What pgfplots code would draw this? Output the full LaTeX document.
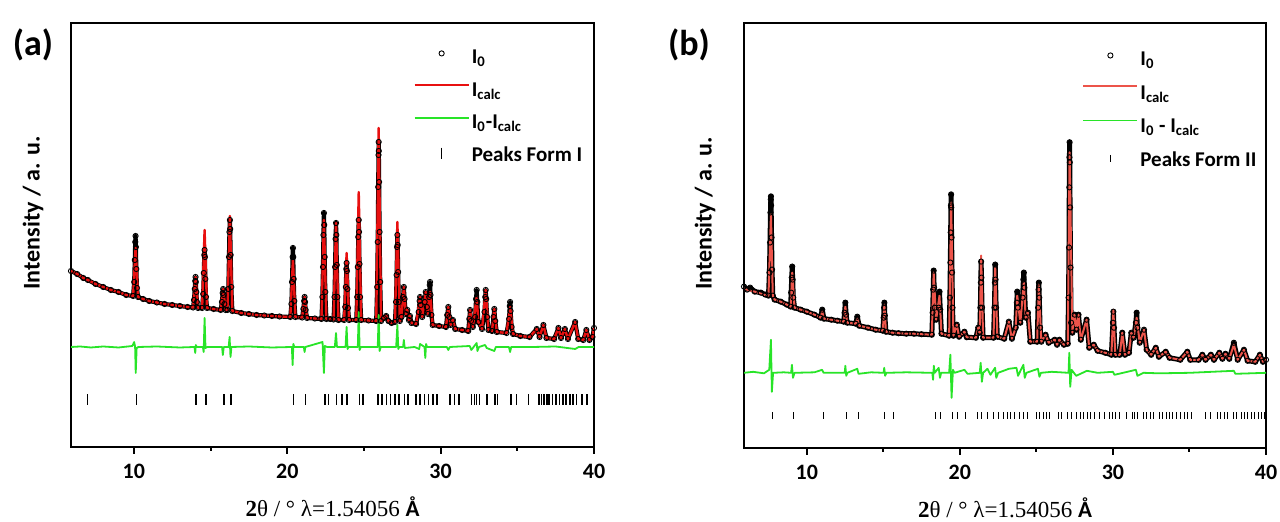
\documentclass[border=0pt]{standalone}
\usepackage{pgfplots}
\usepackage{pgfplotstable}
\pgfplotsset{compat=1.18}
\usepackage{fontspec}
\setmainfont{Carlito}
\newfontfamily\serifx{Liberation Serif}
\definecolor{redA}{RGB}{232,16,16}
\definecolor{redB}{RGB}{236,84,74}
\definecolor{greenc}{RGB}{40,228,40}

\pgfplotstableread{
x obs calc
5.9 176 176
6.3 173 173
6.7 169 169
7.0 167 167
7.5 163 163
8.0 160 160
8.5 157 157
9.0 155 155
9.5 152 152
9.95 151 151
10.02 165 nan
10.06 187 nan
10.09 205 nan
10.11 211 199
10.13 200 nan
10.16 178 nan
10.2 159 nan
10.27 150 150
10.6 148 148
11.0 146 146
11.5 144.5 144.5
12.0 143 143
12.5 142 142
13.0 141 141
13.5 140 140
13.86 139.5 139.5
13.92 147 nan
13.97 158 nan
14.0 166 nan
14.02 170 170
14.04 165 nan
14.07 155 nan
14.11 145 nan
14.18 139 139
14.45 139 139
14.52 153 nan
14.56 174 nan
14.59 192 nan
14.61 197 217
14.63 190 nan
14.66 168 nan
14.7 150 nan
14.77 139 139
15.2 138 138
15.66 137 137
15.74 145 nan
15.79 154 nan
15.82 158 158
15.85 152 nan
15.9 143 nan
15.98 137 137
16.1 137 137
16.16 158 nan
16.2 190 nan
16.23 215 nan
16.26 227 231
16.28 218 nan
16.31 192 nan
16.35 160 nan
16.42 136 136
17.0 134 134
17.5 133 133
18.0 132 132
18.5 131.5 131.5
19.0 131 131
19.5 130.5 130.5
20.2 130 130
20.27 143 nan
20.31 165 nan
20.35 190 nan
20.37 199 187
20.39 190 nan
20.42 168 nan
20.46 146 nan
20.53 130 130
20.97 129.5 129.5
21.05 138 nan
21.1 146 nan
21.13 150 150
21.16 145 nan
21.2 137 nan
21.29 129 129
21.8 128.5 128.5
22.23 128 128
22.29 150 nan
22.33 180 nan
22.36 212 nan
22.39 234 227
22.41 222 nan
22.44 190 nan
22.48 155 nan
22.55 128 128
22.8 128 128
23.02 127.5 127.5
23.08 150 nan
23.12 180 nan
23.15 208 nan
23.18 224 224
23.2 212 nan
23.23 182 nan
23.27 150 nan
23.34 127 127
23.71 127 127
23.78 140 nan
23.82 160 nan
23.85 178 nan
23.87 184 194
23.89 176 nan
23.92 158 nan
23.96 139 nan
24.03 127 127
24.5 127 127
24.56 150 nan
24.6 180 nan
24.63 210 nan
24.66 227 255
24.68 215 nan
24.71 183 nan
24.75 150 nan
24.82 127 127
25.3 126.5 126.5
25.8 126 126
25.86 160 nan
25.9 205 nan
25.93 260 nan
25.95 292 nan
25.96 305 319
25.97 296 nan
25.99 265 nan
26.02 215 nan
26.06 165 nan
26.12 126 126
26.3 129 129
26.45 131 131
26.6 126 126
26.8 124 124
27.02 125 125
27.09 145 nan
27.13 172 nan
27.16 200 nan
27.18 212 225
27.2 202 nan
27.23 175 nan
27.27 145 nan
27.34 126 126
27.45 130 130
27.55 150 nan
27.6 160 160
27.65 148 nan
27.73 133 133
27.83 137 137
27.93 127 127
28.0 131 131
28.1 124 124
28.4 123 123
28.57 135 nan
28.63 146 nan
28.66 150 150
28.7 142 nan
28.8 130 130
28.96 145 nan
29.03 155 155
29.1 140 nan
29.17 133 133
29.25 150 nan
29.29 162 nan
29.31 165 155
29.34 152 nan
29.4 132 nan
29.48 122 122
29.9 121 121
30.35 120 120
30.43 132 nan
30.5 140 140
30.57 130 nan
30.65 122 122
30.8 127 127
30.95 118 118
31.4 117 117
31.8 116 116
31.87 128 nan
31.92 137 137
31.98 126 nan
32.1 120 120
32.25 130 nan
32.31 148 nan
32.35 157 150
32.39 145 nan
32.46 125 125
32.7 118 118
32.86 135 nan
32.91 150 nan
32.94 157 157
32.97 148 nan
33.03 130 nan
33.12 117 117
33.35 116 116
33.45 130 nan
33.5 138 138
33.56 126 nan
33.66 115 115
34.3 114 114
34.46 128 nan
34.51 141 nan
34.53 145 140
34.56 136 nan
34.63 120 nan
34.72 113 113
35.2 111 111
35.8 110 110
36.27 118 118
36.45 110 110
36.7 122 122
36.9 109 109
37.4 108 108
37.68 119 119
37.85 109 109
38.1 118 118
38.3 108 108
38.77 125 125
38.97 108 108
39.3 107 107
39.5 117 117
39.7 107 107
39.9 110 110
40.0 119 119
}\dataA

\pgfplotstableread{
x d
5.9 100
6.5 100.5
7.2 99.5
8 100.5
9 99.5
9.9 101
10.02 105
10.08 100
10.12 74
10.18 99
10.3 100
11.5 100.5
13 99.5
13.95 100
14.0 94
14.04 102
14.1 100
14.5 100
14.55 95
14.61 129
14.67 99
14.8 100
15.75 100
15.8 92
15.86 100
16.18 100
16.24 110
16.3 90
16.36 100
17.5 100.5
19 99.5
20.3 100
20.35 82
20.4 103
20.46 100
21.08 100
21.13 95
21.18 100
22.3 105
22.39 74
22.45 101
22.6 100
23.1 100
23.18 114
23.24 100
23.8 100
23.87 120
23.93 98
24.0 100
24.6 100
24.66 135
24.72 97
24.8 100
25.9 100
25.96 132
26.02 96
26.1 100
27.1 100
27.18 122
27.24 98
27.3 100
27.55 100
27.6 107
27.66 99
28.3 100
28.6 98
28.66 103
28.95 100
29.0 89
29.05 103
29.12 100
30.4 100
30.5 97
30.6 100
31.9 101
32.0 97
32.35 104
32.4 96
32.5 100
32.9 102
33.0 99
33.5 96
33.6 100
34.45 100
34.53 95
34.6 100
36 100
37.5 100.5
38.77 98
39 100
40 100
}\diffA

\pgfplotstableread{
x obs calc
5.9 161 159
6.1 158 158
6.3 160 157
6.6 156 156
7.0 155 154
7.3 153 152.5
7.5 152 152
7.56 175 nan
7.6 205 nan
7.63 235 nan
7.65 248 nan
7.66 251 233
7.67 242 nan
7.7 210 nan
7.73 178 nan
7.78 152 152
7.9 148 148
8.3 146 146
8.7 143 143
8.95 141 141
8.98 155 nan
9.02 170 nan
9.05 181 175
9.08 168 nan
9.12 150 nan
9.2 140 140
9.6 138 138
10.0 136 136
10.5 133 133
10.9 130 130
11.01 138 136
11.12 129 129
11.6 128 128
12.0 127 127
12.42 126 126
12.47 135 nan
12.52 145 141
12.57 133 nan
12.64 125 125
13.2 124 124
13.3 131 129
13.42 122 122
14.0 120 120
14.5 118 118
14.97 117 117
15.02 130 nan
15.05 140 nan
15.07 145 143
15.1 132 nan
15.17 116 116
15.6 115 115
16.0 114.5 114.5
16.5 114 114
17.0 114 114
17.5 113.5 113.5
18.17 113 113
18.22 135 nan
18.26 158 nan
18.29 177 175
18.32 160 nan
18.36 140 nan
18.45 128 128
18.62 140 nan
18.67 156 152
18.72 138 nan
18.8 114 114
19.3 112 112
19.35 150 nan
19.38 185 nan
19.4 215 nan
19.42 242 nan
19.43 253 245
19.44 240 nan
19.46 210 nan
19.49 175 nan
19.52 140 nan
19.58 112 112
19.8 123 123
19.95 111 111
20.3 116 116
20.45 110.5 110.5
21.05 110 110
21.2 120 120
21.3 115 115
21.34 140 nan
21.37 165 nan
21.39 186 192
21.41 170 nan
21.45 140 nan
21.52 110 110
22.2 110 110
22.26 140 nan
22.29 165 nan
22.31 183 180
22.33 168 nan
22.37 140 nan
22.45 111 111
22.9 109 109
23.2 126 126
23.4 109 109
23.65 120 120
23.72 145 nan
23.75 156 152
23.79 140 nan
23.95 125 125
24.1 150 nan
24.15 168 nan
24.18 175 165
24.22 160 nan
24.3 130 130
24.45 135 135
24.6 106 106
25.05 106 106
25.11 140 nan
25.14 158 nan
25.16 165 163
25.19 150 nan
25.24 120 nan
25.32 106 106
25.6 113 113
25.8 105 105
26.2 108 108
26.35 103 103
26.5 108 108
26.8 103 103
27.05 104 104
27.1 150 nan
27.13 200 nan
27.15 260 nan
27.16 290 nan
27.17 305 295
27.18 285 nan
27.2 240 nan
27.23 180 nan
27.27 125 nan
27.35 115 115
27.5 133 133
27.62 118 118
27.75 133 133
27.9 108 108
28.28 128 128
28.45 100 100
28.75 103 103
29.0 97 97
29.5 95 95
29.9 93 93
30.0 125 nan
30.03 136 138
30.07 120 nan
30.15 93 93
30.45 93 93
30.61 115 115
30.78 93 93
31.05 95 95
31.2 115 115
31.35 110 110
31.5 125 nan
31.55 135 130
31.6 120 nan
31.75 105 105
32.03 118 118
32.2 98 98
32.5 93 93
32.8 100 100
33.0 91 91
33.45 96 96
33.7 90 90
34.4 88 88
34.86 96 96
35.05 88 88
35.6 88 88
35.84 93 93
36.05 88 88
36.4 93 93
36.6 88 88
36.95 95 95
37.15 89 89
37.35 94 94
37.6 89 89
37.9 105 103
38.15 88 88
38.56 98 98
38.8 87 87
39.3 86 86
39.6 93 93
39.8 86 86
40.0 88 88
}\dataB

\pgfplotstableread{
x d
5.9 75
6.5 76
7.2 74.5
7.55 78
7.66 108
7.72 56
7.8 75
8.5 75.5
8.98 75
9.03 83
9.1 70
9.2 75
10.5 75.5
11.0 78
11.1 75
12.48 75
12.52 82
12.58 72
12.65 75
13.3 79
13.38 74
14.2 75.5
15.02 75
15.06 80
15.12 72
15.2 75
16.5 75.5
18.2 75
18.25 68
18.3 82
18.36 75
18.62 80
18.7 70
18.78 75
19.3 75
19.38 93
19.46 50
19.55 78
19.65 75
20.3 78
20.5 74
21.3 75
21.36 85
21.44 66
21.52 75
21.8 79
22.0 73
22.3 80
22.38 70
22.5 75
23.2 79
23.7 80
23.8 72
24.15 83
24.24 70
24.35 75
25.1 79
25.2 71
25.3 75
26.0 76
27.1 75
27.15 95
27.21 61
27.3 78
27.6 72
28.3 77
29 75
30 76
30.1 73
31.5 78
31.6 72
32 75
33 74.5
35 75
37.9 77
38 74
40 75
}\diffB

\pgfplotsset{
  xrdaxis/.style={
    scale only axis,
    xmin=5.9, xmax=40, ymin=0, ymax=424,
    axis line style={line width=1.2pt},
    xtick={10,20,30,40}, minor xtick={15,25,35},
    xtick pos=bottom, ytick=\empty,
    tick align=outside,
    major tick length=3.5pt, minor tick length=2pt,
    every tick/.style={line width=1pt, black},
    /pgf/number format/assume math mode=true,
    xticklabel style={font=\fontsize{11}{13}\selectfont\bfseries, yshift=-1.5pt},
    xlabel={\serifx{\bfseries 2}θ / ° λ=1.54056 {\normalfont\bfseries Å}},
    xlabel style={font=\fontsize{11.5}{13}\selectfont, at={(axis description cs:0.5,-0.141)}, anchor=center},
    ylabel={Intensity / a. u.},
    ylabel style={font=\fontsize{12}{14}\selectfont\bfseries, anchor=center},
    legend cell align=left,
    legend image code/.code={\draw[mark repeat=2,mark phase=2,#1] plot coordinates {(0pt,0pt) (13.5pt,0pt) (27pt,0pt)};},
  }
}

\begin{document}
\begin{tikzpicture}
\useasboundingbox (0,0) rectangle (640pt,261pt);
% ---------------- panel (a)
\begin{axis}[xrdaxis, at={(35.5pt,37.5pt)}, anchor=south west,
  width=261.5pt, height=212pt,
  ylabel style={at={(axis description cs:-0.0727,0.552)}},
  legend style={draw=none, fill=none, inner sep=0pt,
    font=\fontsize{10.5}{12}\selectfont\bfseries,
    row sep=4.3pt,
    nodes={inner sep=1pt, text height=7.5pt, text depth=2.5pt},
    at={(axis description cs:0.654,0.9457)}, anchor=north west}]
\addplot[black, line width=2.1pt, line join=round, forget plot] table[x=x,y=obs]{\dataA};
\addplot[only marks, mark=o, mark size=1.3pt, mark options={line width=0.45pt, black},
  legend image post style={yshift=2.5pt}] table[x=x,y=obs]{\dataA};
\addplot[redA, line width=1.2pt, line join=round, legend image post style={yshift=3pt}] table[x=x,y=calc]{\dataA};
\addplot[greenc, line width=0.9pt, line join=round, legend image post style={yshift=2.8pt}] table[x=x,y=d]{\diffA};
\addplot[only marks, mark=|, mark size=2.75pt, mark options={line width=0.8pt, black},
  legend image post style={yshift=1.5pt}] coordinates {
(6.97,47.4) (10.16,47.4) (14.04,47.4) (14.72,47.4) (15.89,47.4) (16.33,47.4)
(20.40,47.4) (21.19,47.4) (22.47,47.4) (22.69,47.4) (23.21,47.4) (23.55,47.4)
(23.88,47.4) (24.72,47.4) (24.94,47.4) (25.90,47.4) (26.18,47.4) (26.46,47.4)
(26.74,47.4) (27.03,47.4) (27.30,47.4) (27.64,47.4) (27.86,47.4) (28.38,47.4)
(28.65,47.4) (28.94,47.4) (29.21,47.4) (29.50,47.4) (29.77,47.4) (30.63,47.4)
(30.90,47.4) (31.19,47.4) (32.02,47.4) (32.20,47.4) (32.35,47.4) (32.53,47.4)
(33.03,47.4) (33.54,47.4) (33.70,47.4) (34.60,47.4) (34.94,47.4) (35.72,47.4)
(36.40,47.4) (36.58,47.4) (36.73,47.4) (36.92,47.4) (37.07,47.4) (37.29,47.4)
(37.52,47.4) (37.74,47.4) (37.97,47.4) (38.19,47.4) (38.42,47.4) (38.64,47.4)
(38.87,47.4) (39.20,47.4) (39.54,47.4)};
\addlegendentry{I\textsubscript{0}}
\addlegendentry{I\textsubscript{calc}}
\addlegendentry{I\textsubscript{0}-I\textsubscript{calc}}
\addlegendentry{Peaks Form I}
\end{axis}
% ---------------- panel (b)
\begin{axis}[xrdaxis, at={(372pt,37pt)}, anchor=south west,
  width=261pt, height=212.5pt,
  ylabel style={at={(axis description cs:-0.0747,0.552)}},
  legend style={draw=none, fill=none, inner sep=0pt,
    font=\fontsize{10.5}{12}\selectfont\bfseries,
    row sep=4.8pt,
    nodes={inner sep=1pt, text height=7.5pt, text depth=2.5pt},
    at={(axis description cs:0.6475,0.941)}, anchor=north west}]
\addplot[black, line width=2.5pt, line join=round, forget plot] table[x=x,y=obs]{\dataB};
\addplot[only marks, mark=o, mark size=1.3pt, mark options={line width=0.45pt, black},
  legend image post style={yshift=2.5pt}] table[x=x,y=obs]{\dataB};
\addplot[redB, line width=1pt, line join=round, legend image post style={yshift=4pt}] table[x=x,y=calc]{\dataB};
\addplot[greenc, line width=0.9pt, line join=round, legend image post style={yshift=3.6pt}] table[x=x,y=d]{\diffB};
\addplot[only marks, mark=|, mark size=1.75pt, mark options={line width=0.5pt, black},
  legend image post style={yshift=1.5pt}] coordinates {
(7.75,32) (9.12,32) (11.11,32) (12.57,32) (13.39,32) (15.11,32) (15.64,32)
(18.41,32) (18.74,32) (19.52,32) (19.84,32) (20.40,32) (21.13,32) (21.39,32)
(21.79,32) (22.17,32) (22.50,32) (22.83,32) (23.12,32) (23.34,32) (23.60,32)
(23.89,32) (24.18,32) (24.40,32) (25.00,32) (25.22,32) (25.44,32) (25.66,32)
(25.84,32) (26.44,32) (26.66,32) (27.05,32) (27.32,32) (27.65,32) (27.87,32)
(28.09,32) (28.31,32) (28.53,32) (28.82,32) (29.09,32) (29.48,32) (29.75,32)
(29.97,32) (30.20,32) (30.41,32) (30.86,32) (31.30,32) (31.41,32) (31.63,32)
(32.01,32) (32.18,32) (32.45,32) (32.67,32) (33.02,32) (33.24,32) (33.47,32)
(33.69,32) (33.90,32) (34.17,32) (34.39,32) (34.68,32) (34.90,32) (35.16,32)
(36.05,32) (36.38,32) (36.83,32) (37.04,32) (37.26,32) (37.49,32) (37.89,32)
(38.04,32) (38.42,32) (38.59,32) (38.82,32) (39.04,32) (39.26,32) (39.48,32)
(39.70,32) (39.92,32)};
\addlegendentry{I\textsubscript{0}}
\addlegendentry{I\textsubscript{calc}}
\addlegendentry{I\textsubscript{0} - I\textsubscript{calc}}
\addlegendentry{Peaks Form II}
\end{axis}
\node at (16.5pt,238.5pt) {\fontsize{18}{21}\selectfont\bfseries (a)};
\node at (344.5pt,238.5pt) {\fontsize{18}{21}\selectfont\bfseries (b)};
\end{tikzpicture}
\end{document}
